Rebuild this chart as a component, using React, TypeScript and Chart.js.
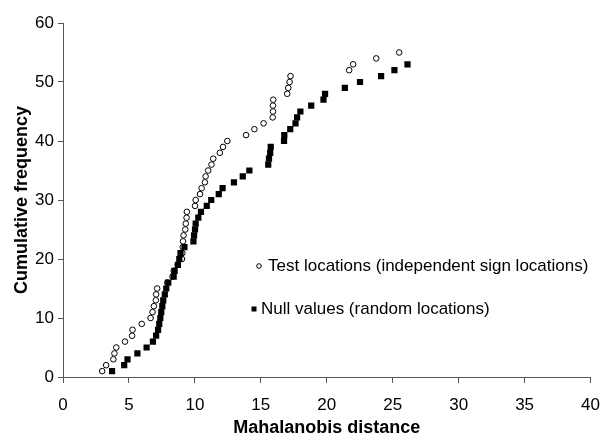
import React, { useEffect, useRef } from "react";
import { Chart, registerables } from "chart.js";

Chart.register(...registerables);

// Mahalanobis distance of each test location, sorted (cumulative frequency 1..55)
const testDistance = [
  2.97, 3.27, 3.82, 3.9, 4.04, 4.7, 5.24, 5.27, 5.97, 6.64,
  6.79, 6.89, 7.04, 7.06, 7.14, 7.9, 8.3, 8.4, 8.7, 9.02,
  9.05, 9.08, 9.1, 9.14, 9.27, 9.31, 9.37, 9.39, 10.01, 10.06,
  10.39, 10.51, 10.76, 10.81, 11.01, 11.26, 11.39, 11.89, 12.13, 12.46,
  13.88, 14.51, 15.21, 15.9, 15.92, 15.92, 15.94, 17.0, 17.08, 17.18,
  17.25, 21.7, 22.0, 23.75, 25.49,
];
const testFrequency = [
  1, 2, 3, 4, 5, 6, 7, 8, 9, 10,
  11, 12, 13, 14, 15, 16, 17, 18, 19, 20,
  21, 22, 23, 24, 25, 26, 27, 28, 29, 30,
  31, 32, 33, 34, 35, 36, 37, 38, 39, 40,
  41, 42, 43, 44, 45, 46, 47, 48, 49, 50,
  51, 52, 53, 54, 55,
];

// Null values (random locations), sorted (cumulative frequency 1..53)
const nullDistance = [
  3.72, 4.64, 4.89, 5.64, 6.34, 6.82, 7.06, 7.21, 7.3, 7.38,
  7.45, 7.53, 7.6, 7.72, 7.83, 7.98, 8.39, 8.46, 8.71, 8.82,
  8.91, 9.21, 9.89, 9.94, 10.01, 10.06, 10.26, 10.46, 10.9, 11.24,
  11.81, 12.1, 12.96, 13.63, 14.13, 15.56, 15.62, 15.71, 15.75, 16.76,
  16.78, 17.23, 17.63, 17.75, 18.0, 18.82, 19.75, 19.87, 21.37, 22.52,
  24.12, 25.13, 26.12,
];
const nullFrequency = [
  1, 2, 3, 4, 5, 6, 7, 8, 9, 10,
  11, 12, 13, 14, 15, 16, 17, 18, 19, 20,
  21, 22, 23, 24, 25, 26, 27, 28, 29, 30,
  31, 32, 33, 34, 35, 36, 37, 38, 39, 40,
  41, 42, 43, 44, 45, 46, 47, 48, 49, 50,
  51, 52, 53,
];

const seriesLabels = [
  "Test locations (independent sign locations)",
  "Null values (random locations)",
];
const xAxisTitle = "Mahalanobis distance";
const yAxisTitle = "Cumulative frequency";

const FONT = '"Liberation Sans", Arial, Helvetica, sans-serif';

export default function App() {
  const ref = useRef<HTMLCanvasElement | null>(null);

  useEffect(() => {
    if (!ref.current) return;
    const testPoints = testDistance.map((x, i) => ({ x, y: testFrequency[i] }));
    const nullPoints = nullDistance.map((x, i) => ({ x, y: nullFrequency[i] }));

    const insideLegend = {
      id: "insideLegend",
      afterDraw(chart: any) {
        const ctx = chart.ctx as CanvasRenderingContext2D;
        ctx.save();
        ctx.font = `17px ${FONT}`;
        ctx.fillStyle = "#000";
        ctx.textBaseline = "middle";
        ctx.textAlign = "left";
        // row 1: open circle
        const r1 = 266;
        ctx.beginPath();
        ctx.arc(259, r1, 2.3, 0, Math.PI * 2);
        ctx.fillStyle = "#fff";
        ctx.fill();
        ctx.lineWidth = 1;
        ctx.strokeStyle = "#000";
        ctx.stroke();
        ctx.fillStyle = "#000";
        ctx.fillText(seriesLabels[0], 268, r1);
        // row 2: filled square
        const r2 = 309;
        ctx.fillRect(251.5, r2 - 2.5, 5, 5);
        ctx.fillText(seriesLabels[1], 261, r2);
        ctx.restore();
      },
    };

    const chart = new Chart(ref.current, {
      type: "scatter",
      data: {
        datasets: [
          {
            label: seriesLabels[0],
            data: testPoints,
            pointStyle: "circle",
            pointRadius: 2.8,
            pointBackgroundColor: "#fff",
            pointBorderColor: "#000",
            pointBorderWidth: 1,
            order: 1,
          },
          {
            label: seriesLabels[1],
            data: nullPoints,
            pointStyle: "rect",
            pointRadius: 4.4,
            pointBackgroundColor: "#000",
            pointBorderColor: "#000",
            pointBorderWidth: 0,
            order: 0,
          },
        ],
      },
      options: {
        responsive: false,
        animation: false,
        events: [],
        layout: { padding: { top: 23, right: 15, left: 0, bottom: 0 } },
        plugins: {
          legend: { display: false },
          tooltip: { enabled: false },
        },
        scales: {
          x: {
            type: "linear",
            min: 0,
            max: 40,
            afterFit: (s: any) => {
              s.height = 63;
            },
            ticks: {
              stepSize: 5,
              color: "#000",
              padding: 12,
              maxRotation: 0,
              font: { family: FONT, size: 17 },
            },
            grid: {
              display: true,
              drawOnChartArea: false,
              drawTicks: true,
              tickLength: 6,
              color: "#555",
            },
            border: { display: true, color: "#555", width: 1 },
            title: {
              display: true,
              text: xAxisTitle,
              color: "#000",
              padding: { top: 0, bottom: 1 },
              font: { family: FONT, size: 18, weight: "bold" },
            },
          },
          y: {
            type: "linear",
            min: 0,
            max: 60,
            afterFit: (s: any) => {
              s.width = 63;
            },
            ticks: {
              stepSize: 10,
              color: "#000",
              padding: 4,
              font: { family: FONT, size: 17 },
            },
            grid: {
              display: true,
              drawOnChartArea: false,
              drawTicks: true,
              tickLength: 5,
              color: "#555",
            },
            border: { display: true, color: "#555", width: 1 },
            title: {
              display: true,
              text: yAxisTitle,
              color: "#000",
              padding: { top: 11, bottom: 0 },
              font: { family: FONT, size: 18, weight: "bold" },
            },
          },
        },
      },
      plugins: [insideLegend],
    } as any);

    return () => chart.destroy();
  }, []);

  return (
    <div
      style={{
        position: "absolute",
        left: 0,
        top: 0,
        width: 612,
        height: 440,
        background: "#fff",
      }}
    >
      <canvas ref={ref} width={612} height={440} style={{ display: "block" }} />
    </div>
  );
}
